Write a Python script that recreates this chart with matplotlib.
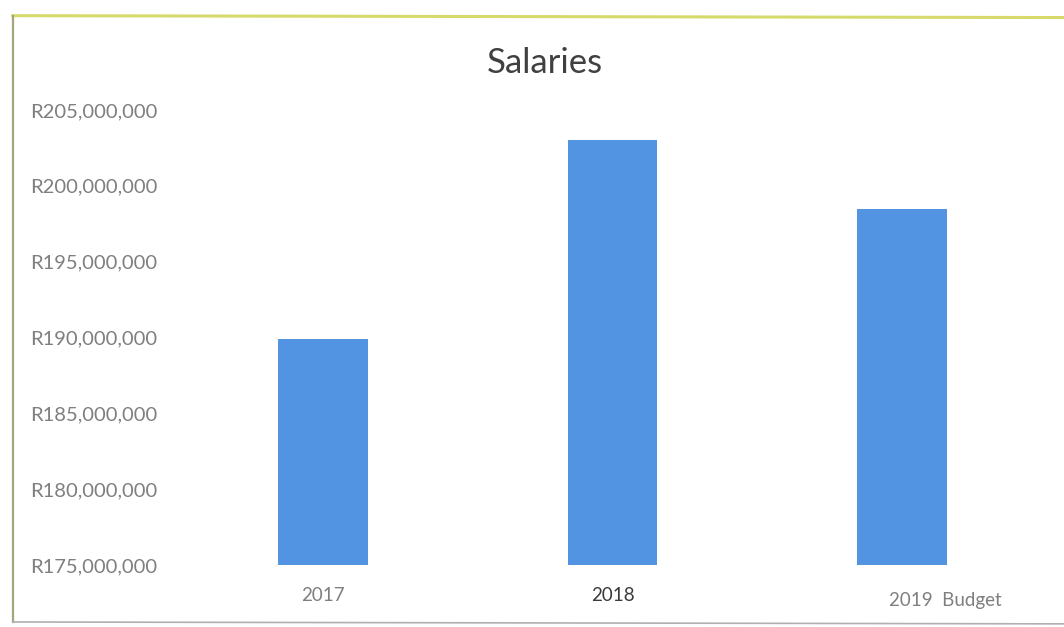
import matplotlib.pyplot as plt
from matplotlib.lines import Line2D
from matplotlib.ticker import FuncFormatter
import matplotlib.transforms as mtransforms

# Salary totals per year (Rand)
years = ['2017', '2018', '2019  Budget']
salaries = [189_900_000, 203_000_000, 198_500_000]
y_ticks = [175_000_000, 180_000_000, 185_000_000, 190_000_000,
           195_000_000, 200_000_000, 205_000_000]

plt.rcParams['font.family'] = ['Lato', 'DejaVu Sans']

fig = plt.figure(figsize=(10.64, 6.27), dpi=100)
ax = fig.add_axes([0.1678, 0.0989, 0.8157, 0.7257])

x = range(len(years))
ax.bar(x, salaries, width=0.31, color='#5294e2', bottom=0)

ax.set_ylim(175_000_000, 205_000_000)
ax.set_xlim(-0.5, len(years) - 0.5)
ax.set_yticks(y_ticks)
ax.yaxis.set_major_formatter(FuncFormatter(lambda v, p: f'R{v:,.0f}'))
ax.set_xticks(list(x))
ax.set_xticklabels(years)

ax.tick_params(axis='y', length=0, pad=15, labelsize=14.5, labelcolor='#7f7f7f')
ax.tick_params(axis='x', length=0, pad=16, labelsize=13.5, labelcolor='#7f7f7f')
for s in ax.spines.values():
    s.set_visible(False)

# the 2018 label prints darker; the budget label sits further right
labels = ax.get_xticklabels()
labels[1].set_color('#3a3a3a')
labels[2].set_transform(labels[2].get_transform() +
                        mtransforms.ScaledTranslation(0.44, -0.05, fig.dpi_scale_trans))

fig.text(0.512, 0.899, 'Salaries', ha='center', va='center',
         fontsize=25, color='#404040')

# chart frame
fig.add_artist(Line2D([0.012, 1.0], [0.975, 0.972], color='#d6da6a', lw=2.2))
fig.add_artist(Line2D([0.012, 0.012], [0.975, 0.008], color='#a4a67a', lw=1.6))
fig.add_artist(Line2D([0.012, 1.0], [0.008, 0.005], color='#b0b0b0', lw=1.2))

fig.savefig('out.png', dpi=100)
